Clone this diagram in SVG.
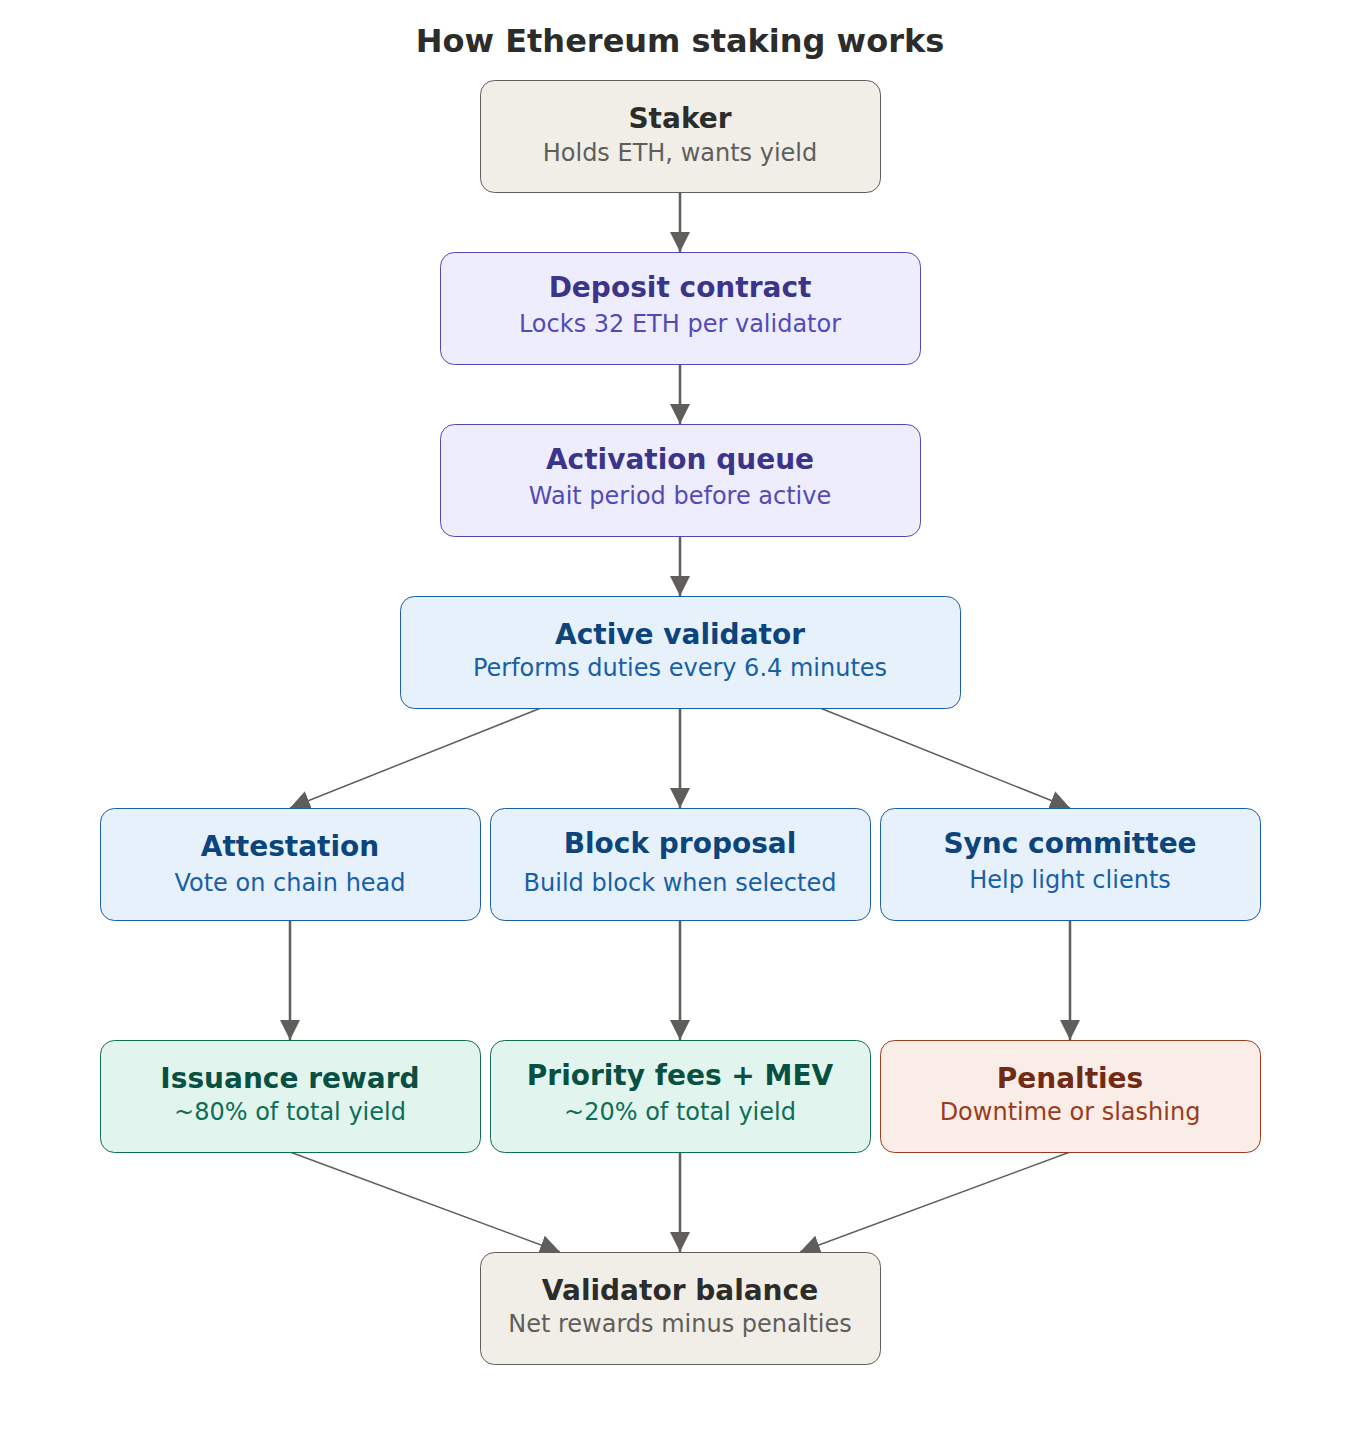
<svg xmlns="http://www.w3.org/2000/svg" width="1360" height="1440" viewBox="0 0 1360 1440">
<style>
text{font-family:"DejaVu Sans",Verdana,sans-serif;text-anchor:middle}
.t{font-weight:bold;font-size:28px}
.s{font-size:24px}
.gray rect{fill:#f1eee8;stroke:#5f5e5a}
.gray .t{fill:#2c2c2a}.gray .s{fill:#5f5e5a}
.pur rect{fill:#eeedfd;stroke:#534ab7}
.pur .t{fill:#3c3489}.pur .s{fill:#534ab7}
.blu rect{fill:#e6f1fb;stroke:#185fa5}
.blu .t{fill:#0c447c}.blu .s{fill:#185fa5}
.grn rect{fill:#e1f5ee;stroke:#0f6e56}
.grn .t{fill:#085041}.grn .s{fill:#0f6e56}
.red rect{fill:#faece7;stroke:#993c1d}
.red .t{fill:#712b13}.red .s{fill:#993c1d}
rect{stroke-width:1}
.c line{stroke:#5f5e5a;stroke-width:2.5;marker-end:url(#ah)}
.c line.d{stroke-width:1.5}
</style>
<defs>
<marker id="ah" viewBox="0 0 10 10" refX="10" refY="5" markerWidth="20" markerHeight="20" markerUnits="userSpaceOnUse" orient="auto">
<path d="M0,0 L10,5 L0,10 z" fill="#5f5e5a"/>
</marker>
</defs>
<rect width="1360" height="1440" fill="#ffffff"/>
<text x="680" y="52" style="font-weight:bold;font-size:32px;fill:#2c2c2a">How Ethereum staking works</text>

<g class="c">
<line x1="680" y1="192" x2="680" y2="252"/>
<line x1="680" y1="364" x2="680" y2="424"/>
<line x1="680" y1="536" x2="680" y2="596"/>
<line x1="680" y1="708" x2="680" y2="808"/>
<line class="d" x1="541" y1="708" x2="290" y2="808"/>
<line class="d" x1="820" y1="708" x2="1070" y2="808"/>
<line x1="290" y1="920" x2="290" y2="1040"/>
<line x1="680" y1="920" x2="680" y2="1040"/>
<line x1="1070" y1="920" x2="1070" y2="1040"/>
<line class="d" x1="290" y1="1152" x2="560" y2="1252"/>
<line x1="680" y1="1152" x2="680" y2="1252"/>
<line class="d" x1="1070" y1="1152" x2="800" y2="1252"/>
</g>

<g id="staker" class="gray"><rect x="480.5" y="80.5" width="400" height="112" rx="14"/>
<text class="t" x="680" y="128">Staker</text><text class="s" x="680" y="161">Holds ETH, wants yield</text></g>
<g id="deposit" class="pur"><rect x="440.5" y="252.5" width="480" height="112" rx="14"/>
<text class="t" x="680" y="297">Deposit contract</text><text class="s" x="680" y="332">Locks 32 ETH per validator</text></g>
<g id="queue" class="pur"><rect x="440.5" y="424.5" width="480" height="112" rx="14"/>
<text class="t" x="680" y="469">Activation queue</text><text class="s" x="680" y="504">Wait period before active</text></g>
<g id="active" class="blu"><rect x="400.5" y="596.5" width="560" height="112" rx="14"/>
<text class="t" x="680" y="644">Active validator</text><text class="s" x="680" y="676">Performs duties every 6.4 minutes</text></g>
<g id="attest" class="blu"><rect x="100.5" y="808.5" width="380" height="112" rx="14"/>
<text class="t" x="290" y="856">Attestation</text><text class="s" x="290" y="891">Vote on chain head</text></g>
<g id="proposal" class="blu"><rect x="490.5" y="808.5" width="380" height="112" rx="14"/>
<text class="t" x="680" y="853">Block proposal</text><text class="s" x="680" y="891">Build block when selected</text></g>
<g id="sync" class="blu"><rect x="880.5" y="808.5" width="380" height="112" rx="14"/>
<text class="t" x="1070" y="853">Sync committee</text><text class="s" x="1070" y="888">Help light clients</text></g>
<g id="issuance" class="grn"><rect x="100.5" y="1040.5" width="380" height="112" rx="14"/>
<text class="t" x="290" y="1088">Issuance reward</text><text class="s" x="290" y="1120">~80% of total yield</text></g>
<g id="fees" class="grn"><rect x="490.5" y="1040.5" width="380" height="112" rx="14"/>
<text class="t" x="680" y="1085">Priority fees + MEV</text><text class="s" x="680" y="1120">~20% of total yield</text></g>
<g id="penalties" class="red"><rect x="880.5" y="1040.5" width="380" height="112" rx="14"/>
<text class="t" x="1070" y="1088">Penalties</text><text class="s" x="1070" y="1120">Downtime or slashing</text></g>
<g id="balance" class="gray"><rect x="480.5" y="1252.5" width="400" height="112" rx="14"/>
<text class="t" x="680" y="1300">Validator balance</text><text class="s" x="680" y="1332">Net rewards minus penalties</text></g>
</svg>
